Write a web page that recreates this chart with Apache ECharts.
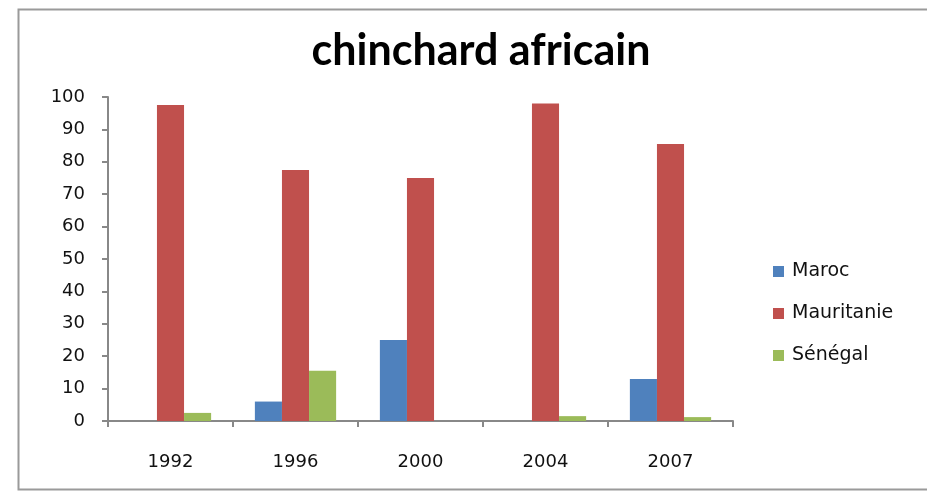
<!DOCTYPE html>
<html>
<head>
<meta charset="utf-8">
<script src="https://cdn.jsdelivr.net/npm/echarts@6/dist/echarts.min.js"></script>
<style>
  html, body { margin: 0; padding: 0; background: #fff; }
  #chart { width: 927px; height: 492px; }
</style>
</head>
<body>
<div id="chart"></div>
<script>
// catégories et valeurs
var years = ['1992', '1996', '2000', '2004', '2007'];
var maroc = [0, 6, 25, 0, 13];
var mauritanie = [97.5, 77.5, 75, 98, 85.5];
var senegal = [2.5, 15.5, 0, 1.5, 1.2];
var yTicks = [0, 10, 20, 30, 40, 50, 60, 70, 80, 90, 100];

var myChart = echarts.init(document.getElementById('chart'));

var labelStyle = { color: '#111', fontSize: 18, fontFamily: 'DejaVu Sans' };

function bar(name, data, color) {
  return {
    name: name,
    type: 'bar',
    data: data,
    barGap: '0%',
    barCategoryGap: '35%',
    itemStyle: { color: color }
  };
}

myChart.setOption({
  animation: false,
  title: {
    text: 'chinchard africain',
    left: 476,
    textAlign: 'center',
    top: 25,
    textStyle: { color: '#000', fontSize: 43, fontWeight: 'bold', fontFamily: 'Lato' }
  },
  graphic: [{
    type: 'rect',
    shape: { x: 18.5, y: 9.5, width: 940, height: 480 },
    style: { fill: 'none', stroke: '#9a9a9a', lineWidth: 2 },
    silent: true
  }],
  legend: {
    orient: 'vertical',
    left: 768,
    top: 257,
    itemWidth: 11,
    itemHeight: 11,
    itemGap: 23,
    icon: 'rect',
    textStyle: { color: '#111', fontSize: 19, fontFamily: 'DejaVu Sans', padding: [0, 0, 0, 3] },
    data: ['Maroc', 'Mauritanie', 'Sénégal']
  },
  grid: { left: 108, right: 194, top: 97, bottom: 71 },
  xAxis: {
    type: 'category',
    data: years,
    axisLine: { lineStyle: { color: '#888', width: 2 } },
    axisTick: { show: true, length: 6, lineStyle: { color: '#888', width: 2 } },
    axisLabel: Object.assign({ margin: 32 }, labelStyle)
  },
  yAxis: {
    type: 'value',
    min: yTicks[0],
    max: yTicks[yTicks.length - 1],
    interval: 10,
    axisLine: { show: true, lineStyle: { color: '#888', width: 2 } },
    axisTick: { show: true, length: 6, lineStyle: { color: '#888', width: 2 } },
    axisLabel: Object.assign({ margin: 23 }, labelStyle),
    splitLine: { show: false }
  },
  series: [
    bar('Maroc', maroc, '#4F81BD'),
    bar('Mauritanie', mauritanie, '#C0504D'),
    bar('Sénégal', senegal, '#9BBB59')
  ]
});
</script>
</body>
</html>
